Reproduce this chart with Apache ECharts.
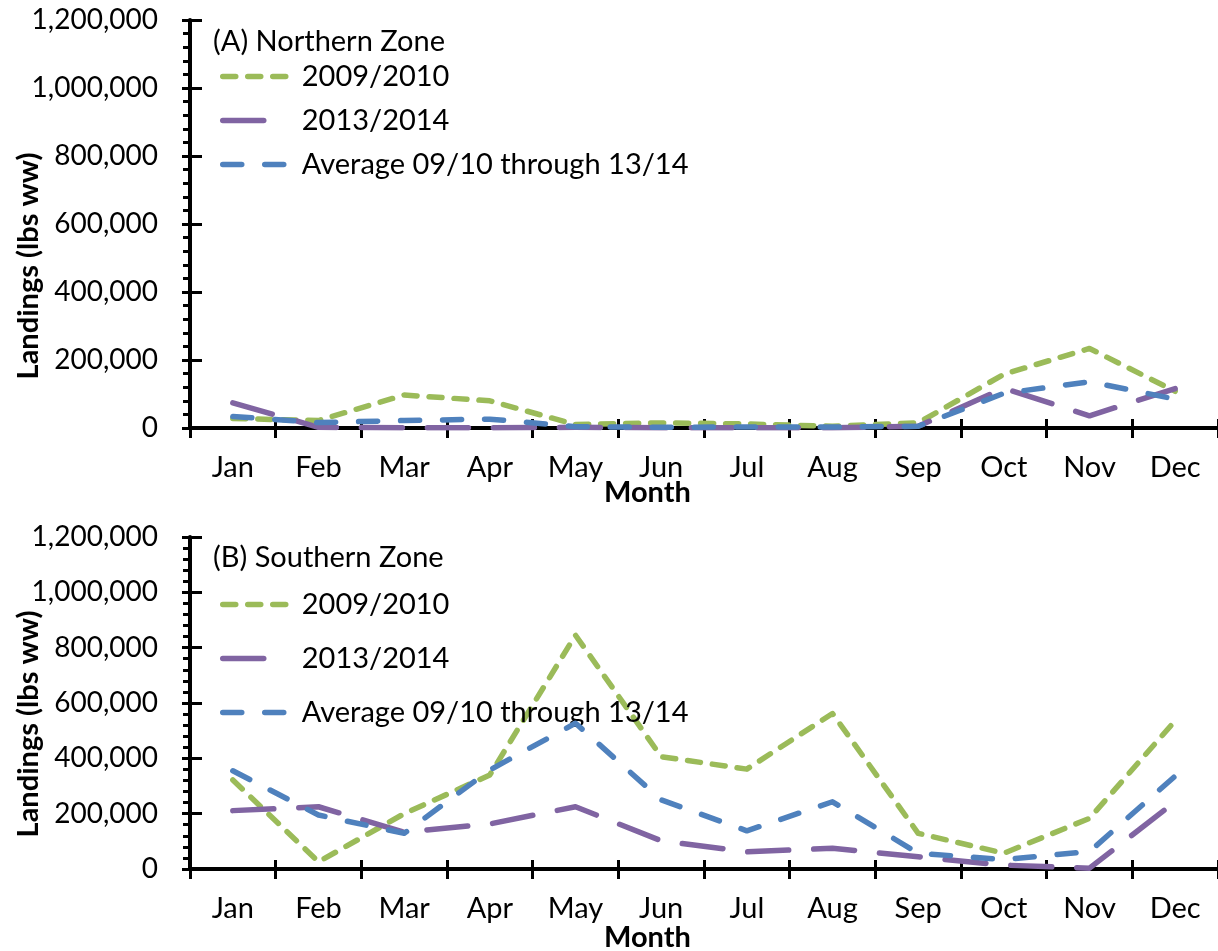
<!DOCTYPE html>
<html><head><meta charset="utf-8">
<script src="https://cdn.jsdelivr.net/npm/echarts@6/dist/echarts.min.js"></script>
<style>html,body{margin:0;padding:0;background:#fff}#c{width:1218px;height:951px}</style>
</head><body><div id="c"></div>
<script>
const months = ['Jan','Feb','Mar','Apr','May','Jun','Jul','Aug','Sep','Oct','Nov','Dec'];
const seriesNames = ['2009/2010','2013/2014','Average 09/10 through 13/14'];
const yMin = 0, yMax = 1200000, yStep = 200000;

const north2009 = [28000, 22000, 97000, 80000, 10000, 15000, 12000, 5000, 15000, 158000, 234000, 108000];
const north2013 = [74000, 2000, 1000, 1000, 2000, 1000, 1000, 1000, 5000, 117000, 36000, 116000];
const northAvg  = [34000, 16000, 22000, 26000, 4000, 2000, 3000, 3000, 5000, 102000, 136000, 85000];

const south2009 = [322000, 26000, 200000, 340000, 845000, 406000, 361000, 562000, 129000, 57000, 183000, 536000];
const south2013 = [211000, 225000, 133000, 163000, 225000, 102000, 62000, 75000, 44000, 14000, 3000, 243000];
const southAvg  = [355000, 195000, 129000, 358000, 527000, 250000, 138000, 243000, 57000, 34000, 63000, 336000];

const FONT = 'Lato';
const colors = ['#9BBB59', '#8064A2', '#4F81BD'];
const dashes = [[13, 12], [41, 25], [19, 23]];

const grids = [
  {left: 190, right: 0, top: 20, height: 408},
  {left: 190, right: 0, top: 537, height: 332}
];

const xAxes = [], yAxes = [], series = [];
const fmt = v => v.toLocaleString('en-US');
[[north2009, north2013, northAvg], [south2009, south2013, southAvg]].forEach((set, g) => {
  xAxes.push({
    type: 'category', gridIndex: g, data: months, boundaryGap: true, position: 'bottom',
    axisLine: {show: true, lineStyle: {color: '#000', width: 4}},
    axisTick: {show: true, length: 10, lineStyle: {color: '#000', width: 3}},
    axisLabel: {color: '#000', fontSize: 29, fontFamily: FONT, margin: 25},
    splitLine: {show: false}
  });
  xAxes.push({
    type: 'category', gridIndex: g, data: months, boundaryGap: true, position: 'bottom',
    axisLine: {show: false},
    axisTick: {show: true, inside: true, length: 9, lineStyle: {color: '#000', width: 3}},
    axisLabel: {show: false}, splitLine: {show: false}
  });
  yAxes.push({
    type: 'value', gridIndex: g, min: yMin, max: yMax, interval: yStep, position: 'left',
    axisLine: {show: true, lineStyle: {color: '#000', width: 4}},
    axisTick: {show: true, length: 8, lineStyle: {color: '#000', width: 3}},
    minorTick: {show: true, splitNumber: 5, length: 7, lineStyle: {color: '#000', width: 3}},
    axisLabel: {color: '#000', fontSize: 28, fontFamily: FONT, margin: 32, formatter: fmt},
    splitLine: {show: false}
  });
  yAxes.push({
    type: 'value', gridIndex: g, min: yMin, max: yMax, interval: yStep, position: 'left',
    axisLine: {show: false},
    axisTick: {show: true, inside: true, length: 12, lineStyle: {color: '#000', width: 3}},
    axisLabel: {show: false}, splitLine: {show: false}
  });
  set.forEach((arr, k) => {
    series.push({
      type: 'line', name: seriesNames[k], xAxisIndex: 2 * g, yAxisIndex: 2 * g,
      data: arr, symbol: 'none', showSymbol: false, silent: true,
      lineStyle: {color: colors[k], width: 5.5, type: dashes[k], cap: 'round', join: 'round'},
      itemStyle: {color: colors[k]}, z: 3 + k
    });
  });
});

const legendBase = {
  data: seriesNames, orient: 'vertical', left: 220, itemWidth: 66, itemHeight: 20,
  selectedMode: false, padding: 0,
  itemStyle: {opacity: 0},
  lineStyle: {width: 5.5, cap: 'round'},
  textStyle: {fontSize: 29, fontFamily: FONT, color: '#000', padding: [0, 0, 0, 8]}
};

const option = {
  backgroundColor: '#fff',
  animation: false,
  grid: grids,
  xAxis: xAxes,
  yAxis: yAxes,
  series: series,
  legend: [
    Object.assign({}, legendBase, {top: 62, itemGap: 15}),
    Object.assign({}, legendBase, {top: 590, itemGap: 25})
  ],
  title: [
    {text: '(A) Northern Zone', left: 213, top: 25, padding: 0, textStyle: {fontSize: 29, fontFamily: FONT, fontWeight: 'normal', color: '#000', lineHeight: 34}},
    {text: '(B) Southern Zone', left: 213, top: 541, padding: 0, textStyle: {fontSize: 29, fontFamily: FONT, fontWeight: 'normal', color: '#000', lineHeight: 34}},
    {text: 'Month', left: 604, top: 476, padding: 0, textStyle: {fontSize: 29, fontFamily: FONT, fontWeight: 'bold', color: '#000', lineHeight: 34}},
    {text: 'Month', left: 604, top: 921, padding: 0, textStyle: {fontSize: 29, fontFamily: FONT, fontWeight: 'bold', color: '#000', lineHeight: 34}}
  ],
  graphic: [
    {type: 'text', x: 29, y: 266, rotation: Math.PI / 2, style: {text: 'Landings (lbs ww)', font: 'bold 29px ' + FONT, fill: '#000', align: 'center', verticalAlign: 'middle', textAlign: 'center', textVerticalAlign: 'middle'}},
    {type: 'text', x: 29, y: 724, rotation: Math.PI / 2, style: {text: 'Landings (lbs ww)', font: 'bold 29px ' + FONT, fill: '#000', align: 'center', verticalAlign: 'middle', textAlign: 'center', textVerticalAlign: 'middle'}}
  ]
};

const chart = echarts.init(document.getElementById('c'), null, {renderer: 'canvas'});
chart.setOption(option);
</script>
</body></html>
